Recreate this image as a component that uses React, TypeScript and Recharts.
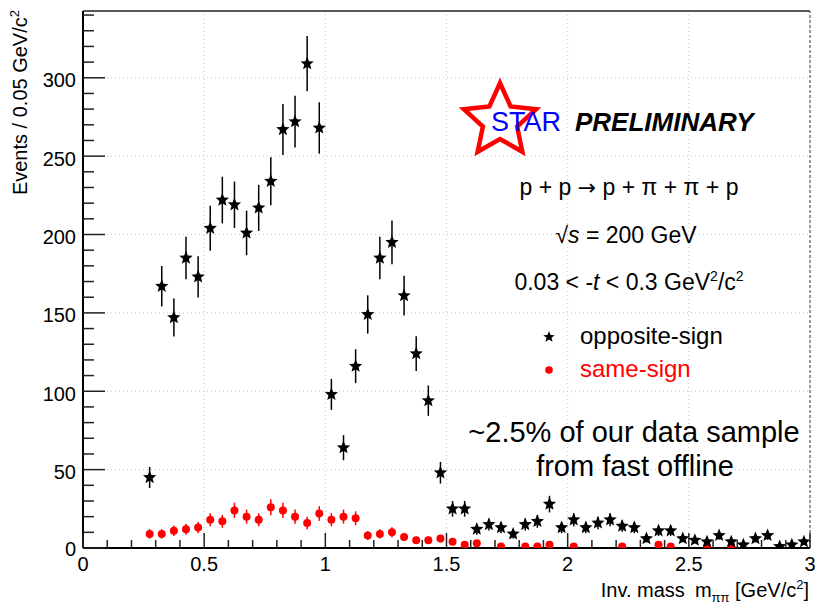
import React from 'react';
import { ComposedChart, Scatter, XAxis, YAxis, ErrorBar, ReferenceLine } from 'recharts';

const FONT = '"Liberation Sans", Arial, Helvetica, sans-serif';

// opposite-sign (black stars)
const oppX = [0.275, 0.325, 0.375, 0.425, 0.475, 0.525, 0.575, 0.625, 0.675, 0.725, 0.775, 0.825, 0.875, 0.925, 0.975,
  1.025, 1.075, 1.125, 1.175, 1.225, 1.275, 1.325, 1.375, 1.425, 1.475, 1.525, 1.575, 1.625, 1.675, 1.725, 1.775, 1.825,
  1.875, 1.925, 1.975, 2.025, 2.075, 2.125, 2.175, 2.225, 2.275, 2.325, 2.375, 2.425, 2.475, 2.525, 2.575, 2.625, 2.675,
  2.725, 2.775, 2.825, 2.875, 2.925, 2.975];
const oppY = [45, 167, 147, 185, 173, 204, 222, 219, 201, 217, 234, 267, 272, 309, 268,
  98, 64, 116, 149, 185, 195, 161, 124, 94, 48, 25, 25, 12, 15, 13, 9, 15,
  17, 28, 13, 18, 13, 16, 18, 14, 13, 6, 11, 11, 6, 5, 4, 8, 4,
  2, 6, 8, 1, 2, 4];
const oppErr = [6.7, 12.9, 12.1, 13.6, 13.2, 14.3, 14.9, 14.8, 14.2, 14.7, 15.3, 16.3, 16.5, 17.6, 16.4,
  9.9, 8.0, 10.8, 12.2, 13.6, 14.0, 12.7, 11.1, 9.7, 6.9, 5.0, 5.0, 3.5, 3.9, 3.6, 3.0, 3.9,
  4.1, 5.3, 3.6, 4.2, 3.6, 4.0, 4.2, 3.7, 3.6, 2.4, 3.3, 3.3, 2.4, 2.2, 2.0, 2.8, 2.0,
  1.4, 2.4, 2.8, 1.0, 1.4, 2.0];

// same-sign (red dots), non-empty bins only
const sameX = [0.275, 0.325, 0.375, 0.425, 0.475, 0.525, 0.575, 0.625, 0.675, 0.725, 0.775, 0.825, 0.875, 0.925, 0.975,
  1.025, 1.075, 1.125, 1.175, 1.225, 1.275, 1.325, 1.375, 1.425, 1.475, 1.525, 1.575, 1.625, 1.725, 1.825, 1.875,
  1.925, 2.025, 2.225, 2.375, 2.425, 2.575, 2.675];
const sameY = [9, 9, 11, 12, 13, 18, 17, 24, 20, 18, 26, 24, 20, 16, 22,
  18, 20, 19, 8, 9, 10, 7, 5, 5, 6, 4, 2, 3, 1, 1, 1,
  2, 1, 1, 2, 1, 1, 1];
const sameErr = [3.0, 3.0, 3.3, 3.5, 3.6, 4.2, 4.1, 4.9, 4.5, 4.2, 5.1, 4.9, 4.5, 4.0, 4.7,
  4.2, 4.5, 4.4, 2.8, 3.0, 3.2, 2.6, 2.2, 2.2, 2.4, 2.0, 1.4, 1.7, 1.0, 1.0, 1.0,
  1.4, 1.0, 1.0, 1.4, 1.0, 1.0, 1.0];

const xMajor = [0, 0.5, 1, 1.5, 2, 2.5, 3];
const xLabels = ['0', '0.5', '1', '1.5', '2', '2.5', '3'];
const yMajor = [0, 50, 100, 150, 200, 250, 300];
const yLabels = ['0', '50', '100', '150', '200', '250', '300'];
const xTicks = Array.from({ length: 31 }, (_, i) => i / 10);
const yTicks = Array.from({ length: 35 }, (_, i) => i * 10);
const xGrid = [0.5, 1, 1.5, 2, 2.5];
const yGrid = [50, 100, 150, 200, 250, 300];
const Y_MAX = 342.6;

const oppData = oppX.map((x, i) => ({ x, y: oppY[i], err: oppErr[i] }));
const sameData = sameX.map((x, i) => ({ x, y: sameY[i], err: sameErr[i] }));

function starPts(cx: number, cy: number, R: number, r: number) {
  const pts: string[] = [];
  for (let i = 0; i < 10; i++) {
    const a = -Math.PI / 2 + (i * Math.PI) / 5;
    const rad = i % 2 === 0 ? R : r;
    pts.push(`${(cx + rad * Math.cos(a)).toFixed(2)},${(cy + rad * Math.sin(a)).toFixed(2)}`);
  }
  return pts.join(' ');
}

const StarShape = (props: any) => {
  const { cx, cy } = props;
  if (cx == null || cy == null) return null;
  return <polygon points={starPts(cx, cy, 7, 3.1)} fill="#000" />;
};

const DotShape = (props: any) => {
  const { cx, cy } = props;
  if (cx == null || cy == null) return null;
  return <circle cx={cx} cy={cy} r={4} fill="#ff0000" />;
};

const XTick = (props: any) => {
  const { x, y, payload } = props;
  const v = payload.value;
  const idx = xMajor.findIndex((m) => Math.abs(m - v) < 1e-6);
  const major = idx >= 0;
  return (
    <g>
      <line x1={x} x2={x} y1={y} y2={y - (major ? 15 : 8)} stroke="#222" strokeWidth={1.5} />
      {major && (
        <text x={x} y={y + 23} textAnchor="middle" fontSize={20} fontFamily={FONT} fill="#000">
          {xLabels[idx]}
        </text>
      )}
    </g>
  );
};

const YTick = (props: any) => {
  const { x, y, payload } = props;
  const v = payload.value;
  const idx = yMajor.findIndex((m) => Math.abs(m - v) < 1e-6);
  const major = idx >= 0;
  return (
    <g>
      <line x1={x} x2={x + (major ? 22 : 11)} y1={y} y2={y} stroke="#222" strokeWidth={1.5} />
      {major && (
        <text x={x - 7} y={y + (v === 0 ? 8 : 9.5)} textAnchor="end" fontSize={20} fontFamily={FONT} fill="#000">
          {yLabels[idx]}
        </text>
      )}
    </g>
  );
};

const Overlay = () => (
  <svg width={815} height={604} style={{ position: 'absolute', left: 0, top: 0, pointerEvents: 'none' }}>
    {/* Y axis title */}
    <text transform="translate(27,10) rotate(-90)" textAnchor="end" fontSize={20} fontFamily={FONT} fill="#000">
      Events / 0.05 GeV/c<tspan dy={-8} fontSize={13}>2</tspan>
    </text>
    {/* X axis title */}
    <text x={809} y={597} textAnchor="end" fontSize={20} fontFamily={FONT} fill="#000">
      Inv. mass<tspan dx={10}>m</tspan>
      <tspan dy={5} fontSize={13}>ππ</tspan>
      <tspan dy={-5}> [GeV/c</tspan>
      <tspan dy={-8} fontSize={13}>2</tspan>
      <tspan dy={8}>]</tspan>
    </text>

    {/* STAR logo */}
    <polygon points={starPts(500, 121, 38, 18)} fill="none" stroke="#ff0000" strokeWidth={4.5} strokeLinejoin="miter" />
    <text x={491} y={131} fontSize={27} fontFamily={FONT} fill="#0000ff">STAR</text>
    <text x={575} y={131} fontSize={26} fontFamily={FONT} fontWeight="bold" fontStyle="italic" fill="#000">PRELIMINARY</text>

    <text x={629} y={195} textAnchor="middle" fontSize={23} fontFamily={FONT} fill="#000">
      p + p <tspan fontFamily='"DejaVu Sans", sans-serif' fontSize={22}>→</tspan> p + π + π + p
    </text>
    <text x={626} y={243} textAnchor="middle" fontSize={23} fontFamily={FONT} fill="#000">
      √<tspan fontStyle="italic">s</tspan> = 200 GeV
    </text>
    <text x={629} y={290} textAnchor="middle" fontSize={23} fontFamily={FONT} fill="#000">
      0.03 &lt; -<tspan fontStyle="italic">t</tspan> &lt; 0.3 GeV<tspan dy={-9} fontSize={14}>2</tspan>
      <tspan dy={9}>/c</tspan>
      <tspan dy={-9} fontSize={14}>2</tspan>
    </text>

    {/* Legend */}
    <polygon points={starPts(549, 337, 6, 2.6)} fill="#000" />
    <text x={580} y={344} fontSize={24} fontFamily={FONT} fill="#000">opposite-sign</text>
    <circle cx={549} cy={370} r={3.8} fill="#ff0000" />
    <text x={580} y={377} fontSize={24} fontFamily={FONT} fill="#ff0000">same-sign</text>

    <text x={634} y={442} textAnchor="middle" fontSize={29} fontFamily={FONT} fill="#000">~2.5% of our data sample</text>
    <text x={635} y={476} textAnchor="middle" fontSize={29} fontFamily={FONT} fill="#000">from fast offline</text>
  </svg>
);

export default function App() {
  return (
    <div style={{ position: 'absolute', left: 0, top: 0, width: 815, height: 604, background: '#fff' }}>
      <ComposedChart width={815} height={604} margin={{ top: 11, right: 5, bottom: 0, left: 0 }}>
        <XAxis
          dataKey="x"
          type="number"
          domain={[0, 3]}
          ticks={xTicks}
          interval={0}
          tickSize={0}
          tickMargin={0}
          tickLine={false}
          tick={<XTick />}
          height={56}
          axisLine={{ stroke: '#000', strokeWidth: 2 }}
          allowDataOverflow
        />
        <YAxis
          dataKey="y"
          type="number"
          domain={[0, Y_MAX]}
          ticks={yTicks}
          interval={0}
          tickSize={0}
          tickMargin={0}
          tickLine={false}
          tick={<YTick />}
          width={83}
          axisLine={{ stroke: '#000', strokeWidth: 2 }}
          allowDataOverflow
        />
        {xGrid.map((v) => (
          <ReferenceLine key={'gx' + v} x={v} stroke="#c8c8c8" strokeDasharray="1 3" strokeWidth={1} />
        ))}
        {yGrid.map((v) => (
          <ReferenceLine key={'gy' + v} y={v} stroke="#c8c8c8" strokeDasharray="1 3" strokeWidth={1} />
        ))}
        <ReferenceLine y={Y_MAX} stroke="#222" strokeWidth={1.5} />
        <ReferenceLine x={3} stroke="#333" strokeWidth={1} strokeDasharray="3 2" />
        <Scatter name="same-sign" data={sameData} shape={<DotShape />} isAnimationActive={false}>
          <ErrorBar dataKey="err" direction="y" width={0} stroke="#ff0000" strokeWidth={1.5} />
        </Scatter>
        <Scatter name="opposite-sign" data={oppData} shape={<StarShape />} isAnimationActive={false}>
          <ErrorBar dataKey="err" direction="y" width={0} stroke="#000" strokeWidth={1.5} />
        </Scatter>
      </ComposedChart>
      <Overlay />
    </div>
  );
}
